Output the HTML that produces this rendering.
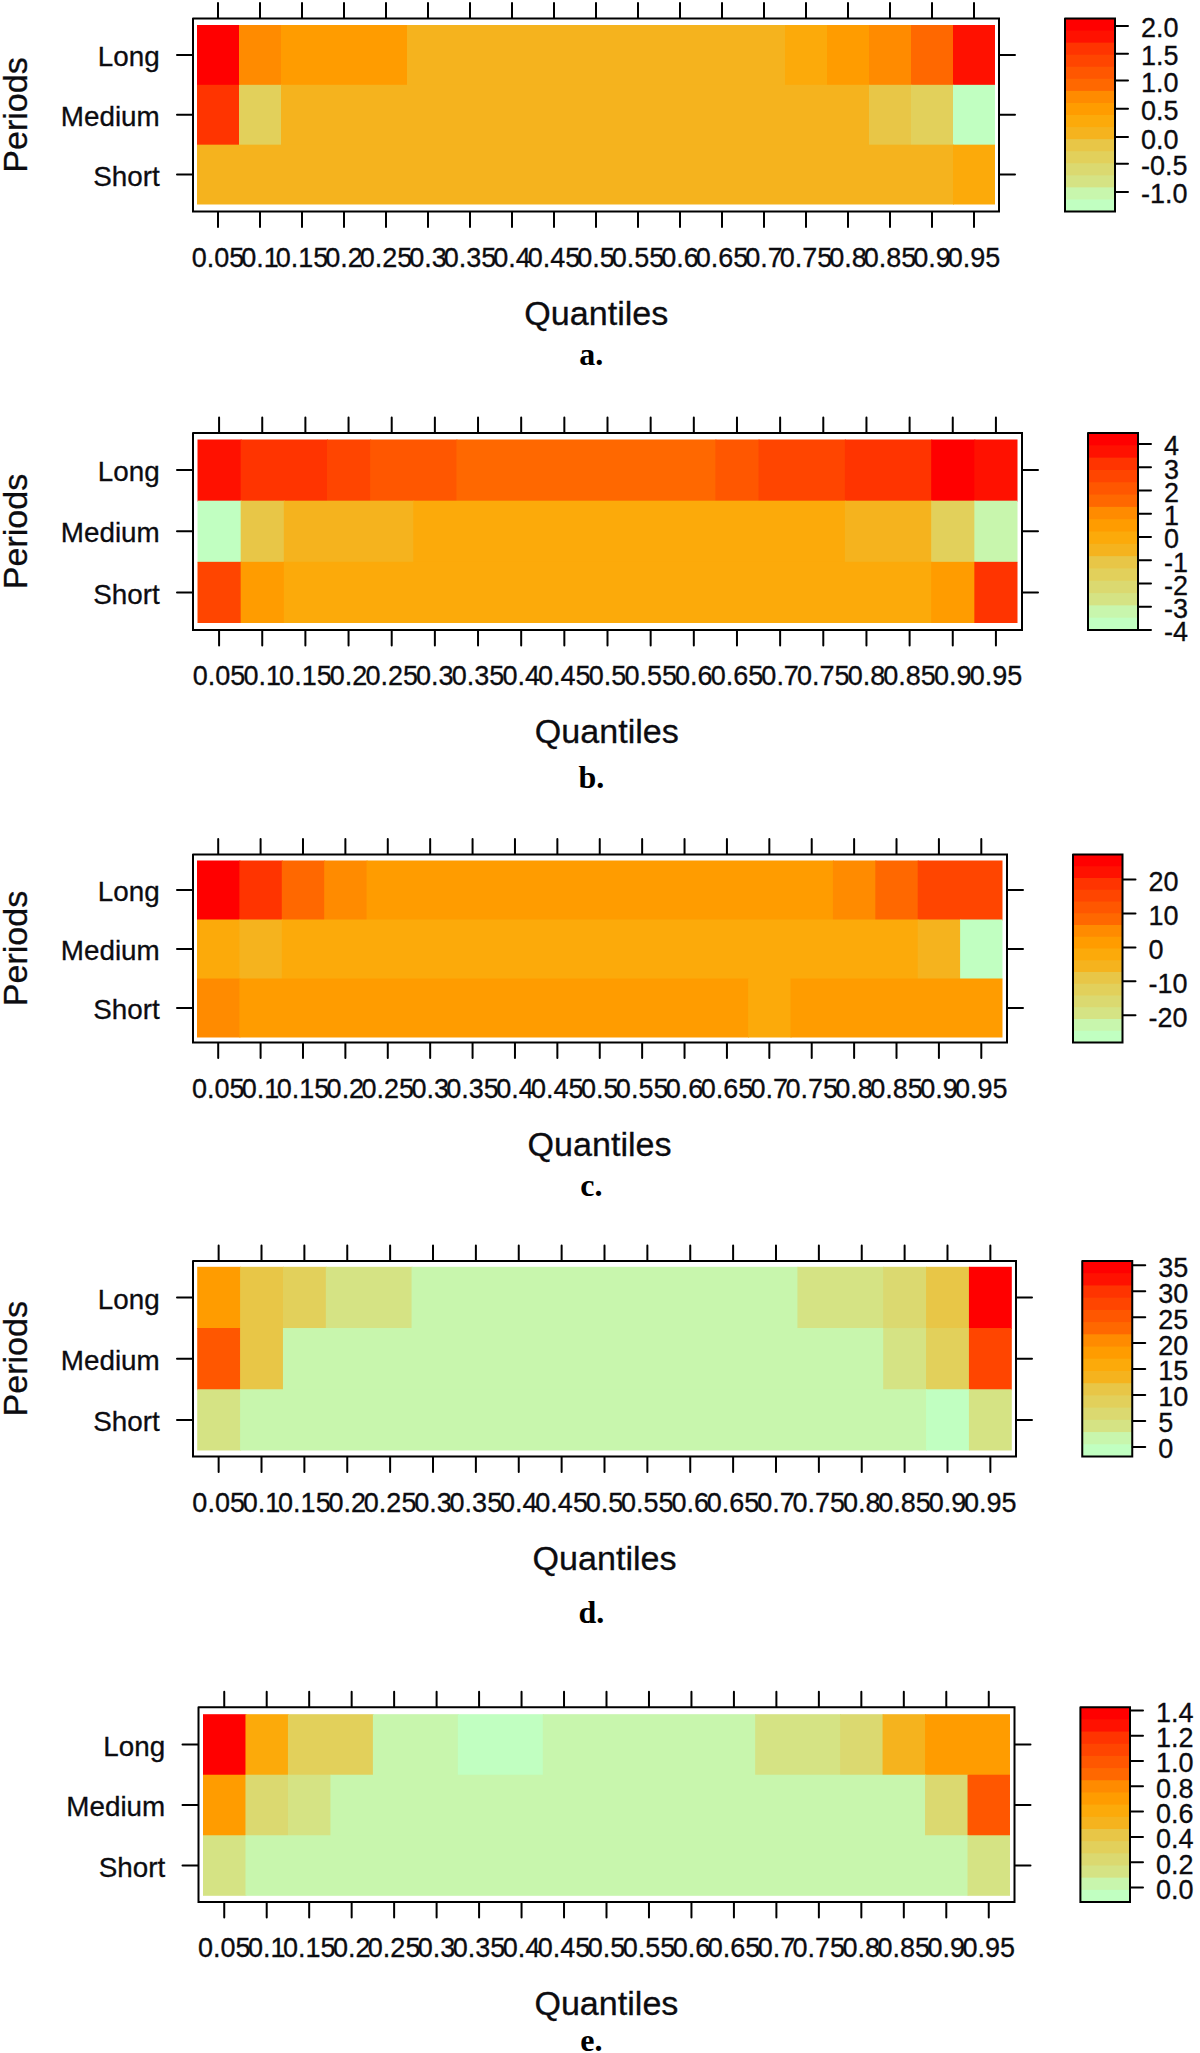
<!DOCTYPE html>
<html lang="en"><head><meta charset="utf-8"><title>Quantile heatmaps</title>
<style>
html,body{margin:0;padding:0;background:#fff;}
body{width:1200px;height:2053px;overflow:hidden;}
svg{display:block;}
svg text{font-family:"Liberation Sans",Arial,sans-serif;fill:#0c0c10;stroke:#0c0c10;stroke-width:0.3px;}
svg text.let{font-family:"Liberation Serif","Times New Roman",serif;font-weight:bold;fill:#000;stroke:none;}
</style></head><body>
<svg width="1200" height="2053" viewBox="0 0 1200 2053">
<rect width="1200" height="2053" fill="#fff"/>
<g id="panel-a">
<rect x="197" y="25" width="43" height="60.83" fill="#FF0000"/>
<rect x="239" y="25" width="43" height="60.83" fill="#FF8B00"/>
<rect x="281" y="25" width="127" height="60.83" fill="#FF9C00"/>
<rect x="407" y="25" width="379" height="60.83" fill="#F5B31E"/>
<rect x="785" y="25" width="43" height="60.83" fill="#FCAA0A"/>
<rect x="827" y="25" width="43" height="60.83" fill="#FF9C00"/>
<rect x="869" y="25" width="43" height="60.83" fill="#FF8B00"/>
<rect x="911" y="25" width="43" height="60.83" fill="#FF6800"/>
<rect x="953" y="25" width="42" height="60.83" fill="#FF1100"/>
<rect x="197" y="84.83" width="43" height="60.83" fill="#FF3400"/>
<rect x="239" y="84.83" width="43" height="60.83" fill="#E2D05B"/>
<rect x="281" y="84.83" width="589" height="60.83" fill="#F5B31E"/>
<rect x="869" y="84.83" width="43" height="60.83" fill="#E8C647"/>
<rect x="911" y="84.83" width="43" height="60.83" fill="#E2D05B"/>
<rect x="953" y="84.83" width="42" height="60.83" fill="#C1FFC1"/>
<rect x="197" y="144.67" width="757" height="59.83" fill="#F5B31E"/>
<rect x="953" y="144.67" width="42" height="59.83" fill="#FCAA0A"/>
<path d="M218 3V18M218 212V227M260 3V18M260 212V227M302 3V18M302 212V227M344 3V18M344 212V227M386 3V18M386 212V227M428 3V18M428 212V227M470 3V18M470 212V227M512 3V18M512 212V227M554 3V18M554 212V227M596 3V18M596 212V227M638 3V18M638 212V227M680 3V18M680 212V227M722 3V18M722 212V227M764 3V18M764 212V227M806 3V18M806 212V227M848 3V18M848 212V227M890 3V18M890 212V227M932 3V18M932 212V227M974 3V18M974 212V227M177 54.92H192.5M999.5 54.92H1015M177 114.75H192.5M999.5 114.75H1015M177 174.58H192.5M999.5 174.58H1015" stroke="#000" stroke-width="2" stroke-linecap="round" fill="none"/>
<path d="M193 18.5H999V211.5H193V18.5" fill="none" stroke="#000" stroke-width="2" stroke-linecap="round" stroke-linejoin="miter"/>
<text x="159.7" y="66.12" text-anchor="end" font-size="27.8">Long</text>
<text x="159.7" y="125.95" text-anchor="end" font-size="27.8">Medium</text>
<text x="159.7" y="185.78" text-anchor="end" font-size="27.8">Short</text>
<text transform="translate(27.3 115) rotate(-90)" text-anchor="middle" font-size="34.1">Periods</text>
<text transform="translate(218 266.5) scale(1 1.04)" text-anchor="middle" font-size="27">0.05</text>
<text transform="translate(260 266.5) scale(1 1.04)" text-anchor="middle" font-size="27">0.1</text>
<text transform="translate(302 266.5) scale(1 1.04)" text-anchor="middle" font-size="27">0.15</text>
<text transform="translate(344 266.5) scale(1 1.04)" text-anchor="middle" font-size="27">0.2</text>
<text transform="translate(386 266.5) scale(1 1.04)" text-anchor="middle" font-size="27">0.25</text>
<text transform="translate(428 266.5) scale(1 1.04)" text-anchor="middle" font-size="27">0.3</text>
<text transform="translate(470 266.5) scale(1 1.04)" text-anchor="middle" font-size="27">0.35</text>
<text transform="translate(512 266.5) scale(1 1.04)" text-anchor="middle" font-size="27">0.4</text>
<text transform="translate(554 266.5) scale(1 1.04)" text-anchor="middle" font-size="27">0.45</text>
<text transform="translate(596 266.5) scale(1 1.04)" text-anchor="middle" font-size="27">0.5</text>
<text transform="translate(638 266.5) scale(1 1.04)" text-anchor="middle" font-size="27">0.55</text>
<text transform="translate(680 266.5) scale(1 1.04)" text-anchor="middle" font-size="27">0.6</text>
<text transform="translate(722 266.5) scale(1 1.04)" text-anchor="middle" font-size="27">0.65</text>
<text transform="translate(764 266.5) scale(1 1.04)" text-anchor="middle" font-size="27">0.7</text>
<text transform="translate(806 266.5) scale(1 1.04)" text-anchor="middle" font-size="27">0.75</text>
<text transform="translate(848 266.5) scale(1 1.04)" text-anchor="middle" font-size="27">0.8</text>
<text transform="translate(890 266.5) scale(1 1.04)" text-anchor="middle" font-size="27">0.85</text>
<text transform="translate(932 266.5) scale(1 1.04)" text-anchor="middle" font-size="27">0.9</text>
<text transform="translate(974 266.5) scale(1 1.04)" text-anchor="middle" font-size="27">0.95</text>
<text x="596.3" y="324.8" text-anchor="middle" font-size="34.1">Quantiles</text>
<text x="591.3" y="364.5" text-anchor="middle" font-size="32" class="let">a.</text>
<rect x="1065" y="18.5" width="50" height="13.06" fill="#FF0000"/>
<rect x="1065" y="30.56" width="50" height="13.06" fill="#FF1100"/>
<rect x="1065" y="42.62" width="50" height="13.06" fill="#FF3400"/>
<rect x="1065" y="54.69" width="50" height="13.06" fill="#FF4500"/>
<rect x="1065" y="66.75" width="50" height="13.06" fill="#FF5700"/>
<rect x="1065" y="78.81" width="50" height="13.06" fill="#FF6800"/>
<rect x="1065" y="90.88" width="50" height="13.06" fill="#FF8B00"/>
<rect x="1065" y="102.94" width="50" height="13.06" fill="#FF9C00"/>
<rect x="1065" y="115" width="50" height="13.06" fill="#FCAA0A"/>
<rect x="1065" y="127.06" width="50" height="13.06" fill="#F5B31E"/>
<rect x="1065" y="139.12" width="50" height="13.06" fill="#E8C647"/>
<rect x="1065" y="151.19" width="50" height="13.06" fill="#E2D05B"/>
<rect x="1065" y="163.25" width="50" height="13.06" fill="#DBD970"/>
<rect x="1065" y="175.31" width="50" height="13.06" fill="#D5E384"/>
<rect x="1065" y="187.38" width="50" height="13.06" fill="#C8F6AD"/>
<rect x="1065" y="199.44" width="50" height="12.06" fill="#C1FFC1"/>
<path d="M1065 18.5H1115V211.5H1065V18.5" fill="none" stroke="#000" stroke-width="2" stroke-linecap="round" stroke-linejoin="miter"/>
<text transform="translate(1141 37.3) scale(1 1.04)" font-size="27">2.0</text>
<text transform="translate(1141 65.15) scale(1 1.04)" font-size="27">1.5</text>
<text transform="translate(1141 91.8) scale(1 1.04)" font-size="27">1.0</text>
<text transform="translate(1141 120.15) scale(1 1.04)" font-size="27">0.5</text>
<text transform="translate(1141 148.5) scale(1 1.04)" font-size="27">0.0</text>
<text transform="translate(1141 175.2) scale(1 1.04)" font-size="27">-0.5</text>
<text transform="translate(1141 203.3) scale(1 1.04)" font-size="27">-1.0</text>
<path d="M1115.5 25.9H1128M1115.5 53.75H1128M1115.5 80.4H1128M1115.5 108.75H1128M1115.5 137.1H1128M1115.5 163.8H1128M1115.5 191.9H1128" stroke="#000" stroke-width="2" stroke-linecap="round" fill="none"/>
</g>
<g id="panel-b">
<rect x="197.5" y="439.5" width="44.16" height="62.17" fill="#FF1100"/>
<rect x="240.66" y="439.5" width="87.32" height="62.17" fill="#FF3400"/>
<rect x="326.97" y="439.5" width="44.16" height="62.17" fill="#FF4500"/>
<rect x="370.13" y="439.5" width="87.32" height="62.17" fill="#FF5700"/>
<rect x="456.45" y="439.5" width="259.95" height="62.17" fill="#FF6800"/>
<rect x="715.39" y="439.5" width="44.16" height="62.17" fill="#FF5700"/>
<rect x="758.55" y="439.5" width="87.32" height="62.17" fill="#FF4500"/>
<rect x="844.87" y="439.5" width="87.32" height="62.17" fill="#FF3400"/>
<rect x="931.18" y="439.5" width="44.16" height="62.17" fill="#FF0000"/>
<rect x="974.34" y="439.5" width="43.16" height="62.17" fill="#FF1100"/>
<rect x="197.5" y="500.67" width="44.16" height="62.17" fill="#C1FFC1"/>
<rect x="240.66" y="500.67" width="44.16" height="62.17" fill="#E8C647"/>
<rect x="283.82" y="500.67" width="130.47" height="62.17" fill="#F5B31E"/>
<rect x="413.29" y="500.67" width="432.58" height="62.17" fill="#FCAA0A"/>
<rect x="844.87" y="500.67" width="87.32" height="62.17" fill="#F5B31E"/>
<rect x="931.18" y="500.67" width="44.16" height="62.17" fill="#E2D05B"/>
<rect x="974.34" y="500.67" width="43.16" height="62.17" fill="#C8F6AD"/>
<rect x="197.5" y="561.83" width="44.16" height="61.17" fill="#FF4500"/>
<rect x="240.66" y="561.83" width="44.16" height="61.17" fill="#FF9C00"/>
<rect x="283.82" y="561.83" width="648.37" height="61.17" fill="#FCAA0A"/>
<rect x="931.18" y="561.83" width="44.16" height="61.17" fill="#FF9C00"/>
<rect x="974.34" y="561.83" width="43.16" height="61.17" fill="#FF3400"/>
<path d="M219.08 417.5V432.5M219.08 630.5V645.5M262.24 417.5V432.5M262.24 630.5V645.5M305.39 417.5V432.5M305.39 630.5V645.5M348.55 417.5V432.5M348.55 630.5V645.5M391.71 417.5V432.5M391.71 630.5V645.5M434.87 417.5V432.5M434.87 630.5V645.5M478.03 417.5V432.5M478.03 630.5V645.5M521.18 417.5V432.5M521.18 630.5V645.5M564.34 417.5V432.5M564.34 630.5V645.5M607.5 417.5V432.5M607.5 630.5V645.5M650.66 417.5V432.5M650.66 630.5V645.5M693.82 417.5V432.5M693.82 630.5V645.5M736.97 417.5V432.5M736.97 630.5V645.5M780.13 417.5V432.5M780.13 630.5V645.5M823.29 417.5V432.5M823.29 630.5V645.5M866.45 417.5V432.5M866.45 630.5V645.5M909.61 417.5V432.5M909.61 630.5V645.5M952.76 417.5V432.5M952.76 630.5V645.5M995.92 417.5V432.5M995.92 630.5V645.5M177 470.08H192.5M1022.5 470.08H1038M177 531.25H192.5M1022.5 531.25H1038M177 592.42H192.5M1022.5 592.42H1038" stroke="#000" stroke-width="2" stroke-linecap="round" fill="none"/>
<path d="M193 433H1022V630H193V433" fill="none" stroke="#000" stroke-width="2" stroke-linecap="round" stroke-linejoin="miter"/>
<text x="159.7" y="481.28" text-anchor="end" font-size="27.8">Long</text>
<text x="159.7" y="542.45" text-anchor="end" font-size="27.8">Medium</text>
<text x="159.7" y="603.62" text-anchor="end" font-size="27.8">Short</text>
<text transform="translate(27.3 531.5) rotate(-90)" text-anchor="middle" font-size="34.1">Periods</text>
<text transform="translate(219.08 685) scale(1 1.04)" text-anchor="middle" font-size="27">0.05</text>
<text transform="translate(262.24 685) scale(1 1.04)" text-anchor="middle" font-size="27">0.1</text>
<text transform="translate(305.39 685) scale(1 1.04)" text-anchor="middle" font-size="27">0.15</text>
<text transform="translate(348.55 685) scale(1 1.04)" text-anchor="middle" font-size="27">0.2</text>
<text transform="translate(391.71 685) scale(1 1.04)" text-anchor="middle" font-size="27">0.25</text>
<text transform="translate(434.87 685) scale(1 1.04)" text-anchor="middle" font-size="27">0.3</text>
<text transform="translate(478.03 685) scale(1 1.04)" text-anchor="middle" font-size="27">0.35</text>
<text transform="translate(521.18 685) scale(1 1.04)" text-anchor="middle" font-size="27">0.4</text>
<text transform="translate(564.34 685) scale(1 1.04)" text-anchor="middle" font-size="27">0.45</text>
<text transform="translate(607.5 685) scale(1 1.04)" text-anchor="middle" font-size="27">0.5</text>
<text transform="translate(650.66 685) scale(1 1.04)" text-anchor="middle" font-size="27">0.55</text>
<text transform="translate(693.82 685) scale(1 1.04)" text-anchor="middle" font-size="27">0.6</text>
<text transform="translate(736.97 685) scale(1 1.04)" text-anchor="middle" font-size="27">0.65</text>
<text transform="translate(780.13 685) scale(1 1.04)" text-anchor="middle" font-size="27">0.7</text>
<text transform="translate(823.29 685) scale(1 1.04)" text-anchor="middle" font-size="27">0.75</text>
<text transform="translate(866.45 685) scale(1 1.04)" text-anchor="middle" font-size="27">0.8</text>
<text transform="translate(909.61 685) scale(1 1.04)" text-anchor="middle" font-size="27">0.85</text>
<text transform="translate(952.76 685) scale(1 1.04)" text-anchor="middle" font-size="27">0.9</text>
<text transform="translate(995.92 685) scale(1 1.04)" text-anchor="middle" font-size="27">0.95</text>
<text x="606.8" y="743.3" text-anchor="middle" font-size="34.1">Quantiles</text>
<text x="591.3" y="787.6" text-anchor="middle" font-size="32" class="let">b.</text>
<rect x="1088" y="433" width="50" height="13.31" fill="#FF0000"/>
<rect x="1088" y="445.31" width="50" height="13.31" fill="#FF1100"/>
<rect x="1088" y="457.62" width="50" height="13.31" fill="#FF3400"/>
<rect x="1088" y="469.94" width="50" height="13.31" fill="#FF4500"/>
<rect x="1088" y="482.25" width="50" height="13.31" fill="#FF5700"/>
<rect x="1088" y="494.56" width="50" height="13.31" fill="#FF6800"/>
<rect x="1088" y="506.88" width="50" height="13.31" fill="#FF8B00"/>
<rect x="1088" y="519.19" width="50" height="13.31" fill="#FF9C00"/>
<rect x="1088" y="531.5" width="50" height="13.31" fill="#FCAA0A"/>
<rect x="1088" y="543.81" width="50" height="13.31" fill="#F5B31E"/>
<rect x="1088" y="556.12" width="50" height="13.31" fill="#E8C647"/>
<rect x="1088" y="568.44" width="50" height="13.31" fill="#E2D05B"/>
<rect x="1088" y="580.75" width="50" height="13.31" fill="#DBD970"/>
<rect x="1088" y="593.06" width="50" height="13.31" fill="#D5E384"/>
<rect x="1088" y="605.38" width="50" height="13.31" fill="#C8F6AD"/>
<rect x="1088" y="617.69" width="50" height="12.31" fill="#C1FFC1"/>
<path d="M1088 433H1138V630H1088V433" fill="none" stroke="#000" stroke-width="2" stroke-linecap="round" stroke-linejoin="miter"/>
<text transform="translate(1164 455.44) scale(1 1.04)" font-size="27">4</text>
<text transform="translate(1164 478.68) scale(1 1.04)" font-size="27">3</text>
<text transform="translate(1164 501.92) scale(1 1.04)" font-size="27">2</text>
<text transform="translate(1164 525.16) scale(1 1.04)" font-size="27">1</text>
<text transform="translate(1164 548.4) scale(1 1.04)" font-size="27">0</text>
<text transform="translate(1164 571.64) scale(1 1.04)" font-size="27">-1</text>
<text transform="translate(1164 594.88) scale(1 1.04)" font-size="27">-2</text>
<text transform="translate(1164 618.12) scale(1 1.04)" font-size="27">-3</text>
<text transform="translate(1164 641.36) scale(1 1.04)" font-size="27">-4</text>
<path d="M1138.5 444.04H1151M1138.5 467.28H1151M1138.5 490.52H1151M1138.5 513.76H1151M1138.5 537H1151M1138.5 560.24H1151M1138.5 583.48H1151M1138.5 606.72H1151M1138.5 629.96H1151" stroke="#000" stroke-width="2" stroke-linecap="round" fill="none"/>
</g>
<g id="panel-c">
<rect x="197" y="860.5" width="43.39" height="60" fill="#FF0000"/>
<rect x="239.39" y="860.5" width="43.39" height="60" fill="#FF3400"/>
<rect x="281.79" y="860.5" width="43.39" height="60" fill="#FF6800"/>
<rect x="324.18" y="860.5" width="43.39" height="60" fill="#FF8B00"/>
<rect x="366.58" y="860.5" width="467.34" height="60" fill="#FF9C00"/>
<rect x="832.92" y="860.5" width="43.39" height="60" fill="#FF8B00"/>
<rect x="875.32" y="860.5" width="43.39" height="60" fill="#FF6800"/>
<rect x="917.71" y="860.5" width="84.79" height="60" fill="#FF4500"/>
<rect x="197" y="919.5" width="43.39" height="60" fill="#FCAA0A"/>
<rect x="239.39" y="919.5" width="43.39" height="60" fill="#F5B31E"/>
<rect x="281.79" y="919.5" width="636.92" height="60" fill="#FCAA0A"/>
<rect x="917.71" y="919.5" width="43.39" height="60" fill="#F5B31E"/>
<rect x="960.11" y="919.5" width="42.39" height="60" fill="#C1FFC1"/>
<rect x="197" y="978.5" width="43.39" height="59" fill="#FF8B00"/>
<rect x="239.39" y="978.5" width="509.74" height="59" fill="#FF9C00"/>
<rect x="748.13" y="978.5" width="43.39" height="59" fill="#FCAA0A"/>
<rect x="790.53" y="978.5" width="211.97" height="59" fill="#FF9C00"/>
<path d="M218.2 839V854M218.2 1043V1058M260.59 839V854M260.59 1043V1058M302.99 839V854M302.99 1043V1058M345.38 839V854M345.38 1043V1058M387.78 839V854M387.78 1043V1058M430.17 839V854M430.17 1043V1058M472.57 839V854M472.57 1043V1058M514.96 839V854M514.96 1043V1058M557.36 839V854M557.36 1043V1058M599.75 839V854M599.75 1043V1058M642.14 839V854M642.14 1043V1058M684.54 839V854M684.54 1043V1058M726.93 839V854M726.93 1043V1058M769.33 839V854M769.33 1043V1058M811.72 839V854M811.72 1043V1058M854.12 839V854M854.12 1043V1058M896.51 839V854M896.51 1043V1058M938.91 839V854M938.91 1043V1058M981.3 839V854M981.3 1043V1058M177 890H192.5M1007.5 890H1023M177 949H192.5M1007.5 949H1023M177 1008H192.5M1007.5 1008H1023" stroke="#000" stroke-width="2" stroke-linecap="round" fill="none"/>
<path d="M193 854.5H1007V1042.5H193V854.5" fill="none" stroke="#000" stroke-width="2" stroke-linecap="round" stroke-linejoin="miter"/>
<text x="159.7" y="901.2" text-anchor="end" font-size="27.8">Long</text>
<text x="159.7" y="960.2" text-anchor="end" font-size="27.8">Medium</text>
<text x="159.7" y="1019.2" text-anchor="end" font-size="27.8">Short</text>
<text transform="translate(27.3 948.5) rotate(-90)" text-anchor="middle" font-size="34.1">Periods</text>
<text transform="translate(218.2 1097.5) scale(1 1.04)" text-anchor="middle" font-size="27">0.05</text>
<text transform="translate(260.59 1097.5) scale(1 1.04)" text-anchor="middle" font-size="27">0.1</text>
<text transform="translate(302.99 1097.5) scale(1 1.04)" text-anchor="middle" font-size="27">0.15</text>
<text transform="translate(345.38 1097.5) scale(1 1.04)" text-anchor="middle" font-size="27">0.2</text>
<text transform="translate(387.78 1097.5) scale(1 1.04)" text-anchor="middle" font-size="27">0.25</text>
<text transform="translate(430.17 1097.5) scale(1 1.04)" text-anchor="middle" font-size="27">0.3</text>
<text transform="translate(472.57 1097.5) scale(1 1.04)" text-anchor="middle" font-size="27">0.35</text>
<text transform="translate(514.96 1097.5) scale(1 1.04)" text-anchor="middle" font-size="27">0.4</text>
<text transform="translate(557.36 1097.5) scale(1 1.04)" text-anchor="middle" font-size="27">0.45</text>
<text transform="translate(599.75 1097.5) scale(1 1.04)" text-anchor="middle" font-size="27">0.5</text>
<text transform="translate(642.14 1097.5) scale(1 1.04)" text-anchor="middle" font-size="27">0.55</text>
<text transform="translate(684.54 1097.5) scale(1 1.04)" text-anchor="middle" font-size="27">0.6</text>
<text transform="translate(726.93 1097.5) scale(1 1.04)" text-anchor="middle" font-size="27">0.65</text>
<text transform="translate(769.33 1097.5) scale(1 1.04)" text-anchor="middle" font-size="27">0.7</text>
<text transform="translate(811.72 1097.5) scale(1 1.04)" text-anchor="middle" font-size="27">0.75</text>
<text transform="translate(854.12 1097.5) scale(1 1.04)" text-anchor="middle" font-size="27">0.8</text>
<text transform="translate(896.51 1097.5) scale(1 1.04)" text-anchor="middle" font-size="27">0.85</text>
<text transform="translate(938.91 1097.5) scale(1 1.04)" text-anchor="middle" font-size="27">0.9</text>
<text transform="translate(981.3 1097.5) scale(1 1.04)" text-anchor="middle" font-size="27">0.95</text>
<text x="599.6" y="1155.8" text-anchor="middle" font-size="34.1">Quantiles</text>
<text x="591.3" y="1196.2" text-anchor="middle" font-size="32" class="let">c.</text>
<rect x="1073" y="854.5" width="49.5" height="12.75" fill="#FF0000"/>
<rect x="1073" y="866.25" width="49.5" height="12.75" fill="#FF1100"/>
<rect x="1073" y="878" width="49.5" height="12.75" fill="#FF3400"/>
<rect x="1073" y="889.75" width="49.5" height="12.75" fill="#FF4500"/>
<rect x="1073" y="901.5" width="49.5" height="12.75" fill="#FF5700"/>
<rect x="1073" y="913.25" width="49.5" height="12.75" fill="#FF6800"/>
<rect x="1073" y="925" width="49.5" height="12.75" fill="#FF8B00"/>
<rect x="1073" y="936.75" width="49.5" height="12.75" fill="#FF9C00"/>
<rect x="1073" y="948.5" width="49.5" height="12.75" fill="#FCAA0A"/>
<rect x="1073" y="960.25" width="49.5" height="12.75" fill="#F5B31E"/>
<rect x="1073" y="972" width="49.5" height="12.75" fill="#E8C647"/>
<rect x="1073" y="983.75" width="49.5" height="12.75" fill="#E2D05B"/>
<rect x="1073" y="995.5" width="49.5" height="12.75" fill="#DBD970"/>
<rect x="1073" y="1007.25" width="49.5" height="12.75" fill="#D5E384"/>
<rect x="1073" y="1019" width="49.5" height="12.75" fill="#C8F6AD"/>
<rect x="1073" y="1030.75" width="49.5" height="11.75" fill="#C1FFC1"/>
<path d="M1073 854.5H1122.5V1042.5H1073V854.5" fill="none" stroke="#000" stroke-width="2" stroke-linecap="round" stroke-linejoin="miter"/>
<text transform="translate(1148.5 891) scale(1 1.04)" font-size="27">20</text>
<text transform="translate(1148.5 924.9) scale(1 1.04)" font-size="27">10</text>
<text transform="translate(1148.5 958.8) scale(1 1.04)" font-size="27">0</text>
<text transform="translate(1148.5 992.7) scale(1 1.04)" font-size="27">-10</text>
<text transform="translate(1148.5 1026.6) scale(1 1.04)" font-size="27">-20</text>
<path d="M1123 879.6H1135.5M1123 913.5H1135.5M1123 947.4H1135.5M1123 981.3H1135.5M1123 1015.2H1135.5" stroke="#000" stroke-width="2" stroke-linecap="round" fill="none"/>
</g>
<g id="panel-d">
<rect x="197.2" y="1266.8" width="43.87" height="62.23" fill="#FF9C00"/>
<rect x="240.07" y="1266.8" width="43.87" height="62.23" fill="#E8C647"/>
<rect x="282.95" y="1266.8" width="43.87" height="62.23" fill="#E2D05B"/>
<rect x="325.82" y="1266.8" width="86.75" height="62.23" fill="#D5E384"/>
<rect x="411.57" y="1266.8" width="386.86" height="62.23" fill="#C8F6AD"/>
<rect x="797.43" y="1266.8" width="86.75" height="62.23" fill="#D5E384"/>
<rect x="883.18" y="1266.8" width="43.87" height="62.23" fill="#DBD970"/>
<rect x="926.05" y="1266.8" width="43.87" height="62.23" fill="#E8C647"/>
<rect x="968.93" y="1266.8" width="42.87" height="62.23" fill="#FF0000"/>
<rect x="197.2" y="1328.03" width="43.87" height="62.23" fill="#FF5700"/>
<rect x="240.07" y="1328.03" width="43.87" height="62.23" fill="#E8C647"/>
<rect x="282.95" y="1328.03" width="601.23" height="62.23" fill="#C8F6AD"/>
<rect x="883.18" y="1328.03" width="43.87" height="62.23" fill="#D5E384"/>
<rect x="926.05" y="1328.03" width="43.87" height="62.23" fill="#E2D05B"/>
<rect x="968.93" y="1328.03" width="42.87" height="62.23" fill="#FF4500"/>
<rect x="197.2" y="1389.27" width="43.87" height="61.23" fill="#D5E384"/>
<rect x="240.07" y="1389.27" width="686.98" height="61.23" fill="#C8F6AD"/>
<rect x="926.05" y="1389.27" width="43.87" height="61.23" fill="#C1FFC1"/>
<rect x="968.93" y="1389.27" width="42.87" height="61.23" fill="#D5E384"/>
<path d="M218.64 1245.5V1260.5M218.64 1457V1472M261.51 1245.5V1260.5M261.51 1457V1472M304.38 1245.5V1260.5M304.38 1457V1472M347.26 1245.5V1260.5M347.26 1457V1472M390.13 1245.5V1260.5M390.13 1457V1472M433.01 1245.5V1260.5M433.01 1457V1472M475.88 1245.5V1260.5M475.88 1457V1472M518.75 1245.5V1260.5M518.75 1457V1472M561.63 1245.5V1260.5M561.63 1457V1472M604.5 1245.5V1260.5M604.5 1457V1472M647.37 1245.5V1260.5M647.37 1457V1472M690.25 1245.5V1260.5M690.25 1457V1472M733.12 1245.5V1260.5M733.12 1457V1472M775.99 1245.5V1260.5M775.99 1457V1472M818.87 1245.5V1260.5M818.87 1457V1472M861.74 1245.5V1260.5M861.74 1457V1472M904.62 1245.5V1260.5M904.62 1457V1472M947.49 1245.5V1260.5M947.49 1457V1472M990.36 1245.5V1260.5M990.36 1457V1472M177 1297.42H192.5M1016.5 1297.42H1032M177 1358.65H192.5M1016.5 1358.65H1032M177 1419.88H192.5M1016.5 1419.88H1032" stroke="#000" stroke-width="2" stroke-linecap="round" fill="none"/>
<path d="M193 1261H1016V1456.5H193V1261" fill="none" stroke="#000" stroke-width="2" stroke-linecap="round" stroke-linejoin="miter"/>
<text x="159.7" y="1308.62" text-anchor="end" font-size="27.8">Long</text>
<text x="159.7" y="1369.85" text-anchor="end" font-size="27.8">Medium</text>
<text x="159.7" y="1431.08" text-anchor="end" font-size="27.8">Short</text>
<text transform="translate(27.3 1358.75) rotate(-90)" text-anchor="middle" font-size="34.1">Periods</text>
<text transform="translate(218.64 1511.5) scale(1 1.04)" text-anchor="middle" font-size="27">0.05</text>
<text transform="translate(261.51 1511.5) scale(1 1.04)" text-anchor="middle" font-size="27">0.1</text>
<text transform="translate(304.38 1511.5) scale(1 1.04)" text-anchor="middle" font-size="27">0.15</text>
<text transform="translate(347.26 1511.5) scale(1 1.04)" text-anchor="middle" font-size="27">0.2</text>
<text transform="translate(390.13 1511.5) scale(1 1.04)" text-anchor="middle" font-size="27">0.25</text>
<text transform="translate(433.01 1511.5) scale(1 1.04)" text-anchor="middle" font-size="27">0.3</text>
<text transform="translate(475.88 1511.5) scale(1 1.04)" text-anchor="middle" font-size="27">0.35</text>
<text transform="translate(518.75 1511.5) scale(1 1.04)" text-anchor="middle" font-size="27">0.4</text>
<text transform="translate(561.63 1511.5) scale(1 1.04)" text-anchor="middle" font-size="27">0.45</text>
<text transform="translate(604.5 1511.5) scale(1 1.04)" text-anchor="middle" font-size="27">0.5</text>
<text transform="translate(647.37 1511.5) scale(1 1.04)" text-anchor="middle" font-size="27">0.55</text>
<text transform="translate(690.25 1511.5) scale(1 1.04)" text-anchor="middle" font-size="27">0.6</text>
<text transform="translate(733.12 1511.5) scale(1 1.04)" text-anchor="middle" font-size="27">0.65</text>
<text transform="translate(775.99 1511.5) scale(1 1.04)" text-anchor="middle" font-size="27">0.7</text>
<text transform="translate(818.87 1511.5) scale(1 1.04)" text-anchor="middle" font-size="27">0.75</text>
<text transform="translate(861.74 1511.5) scale(1 1.04)" text-anchor="middle" font-size="27">0.8</text>
<text transform="translate(904.62 1511.5) scale(1 1.04)" text-anchor="middle" font-size="27">0.85</text>
<text transform="translate(947.49 1511.5) scale(1 1.04)" text-anchor="middle" font-size="27">0.9</text>
<text transform="translate(990.36 1511.5) scale(1 1.04)" text-anchor="middle" font-size="27">0.95</text>
<text x="604.6" y="1569.8" text-anchor="middle" font-size="34.1">Quantiles</text>
<text x="591.3" y="1623" text-anchor="middle" font-size="32" class="let">d.</text>
<rect x="1082.25" y="1261" width="50" height="13.22" fill="#FF0000"/>
<rect x="1082.25" y="1273.22" width="50" height="13.22" fill="#FF1100"/>
<rect x="1082.25" y="1285.44" width="50" height="13.22" fill="#FF3400"/>
<rect x="1082.25" y="1297.66" width="50" height="13.22" fill="#FF4500"/>
<rect x="1082.25" y="1309.88" width="50" height="13.22" fill="#FF5700"/>
<rect x="1082.25" y="1322.09" width="50" height="13.22" fill="#FF6800"/>
<rect x="1082.25" y="1334.31" width="50" height="13.22" fill="#FF8B00"/>
<rect x="1082.25" y="1346.53" width="50" height="13.22" fill="#FF9C00"/>
<rect x="1082.25" y="1358.75" width="50" height="13.22" fill="#FCAA0A"/>
<rect x="1082.25" y="1370.97" width="50" height="13.22" fill="#F5B31E"/>
<rect x="1082.25" y="1383.19" width="50" height="13.22" fill="#E8C647"/>
<rect x="1082.25" y="1395.41" width="50" height="13.22" fill="#E2D05B"/>
<rect x="1082.25" y="1407.62" width="50" height="13.22" fill="#DBD970"/>
<rect x="1082.25" y="1419.84" width="50" height="13.22" fill="#D5E384"/>
<rect x="1082.25" y="1432.06" width="50" height="13.22" fill="#C8F6AD"/>
<rect x="1082.25" y="1444.28" width="50" height="12.22" fill="#C1FFC1"/>
<path d="M1082.25 1261H1132.25V1456.5H1082.25V1261" fill="none" stroke="#000" stroke-width="2" stroke-linecap="round" stroke-linejoin="miter"/>
<text transform="translate(1158.25 1276.65) scale(1 1.04)" font-size="27">35</text>
<text transform="translate(1158.25 1302.6) scale(1 1.04)" font-size="27">30</text>
<text transform="translate(1158.25 1328.55) scale(1 1.04)" font-size="27">25</text>
<text transform="translate(1158.25 1354.5) scale(1 1.04)" font-size="27">20</text>
<text transform="translate(1158.25 1380.45) scale(1 1.04)" font-size="27">15</text>
<text transform="translate(1158.25 1406.4) scale(1 1.04)" font-size="27">10</text>
<text transform="translate(1158.25 1432.35) scale(1 1.04)" font-size="27">5</text>
<text transform="translate(1158.25 1458.3) scale(1 1.04)" font-size="27">0</text>
<path d="M1132.75 1265.25H1145.25M1132.75 1291.2H1145.25M1132.75 1317.15H1145.25M1132.75 1343.1H1145.25M1132.75 1369.05H1145.25M1132.75 1395H1145.25M1132.75 1420.95H1145.25M1132.75 1446.9H1145.25" stroke="#000" stroke-width="2" stroke-linecap="round" fill="none"/>
</g>
<g id="panel-e">
<rect x="203" y="1714.2" width="43.47" height="61.53" fill="#FF0000"/>
<rect x="245.47" y="1714.2" width="43.47" height="61.53" fill="#FCAA0A"/>
<rect x="287.95" y="1714.2" width="85.95" height="61.53" fill="#E2D05B"/>
<rect x="372.89" y="1714.2" width="85.95" height="61.53" fill="#C8F6AD"/>
<rect x="457.84" y="1714.2" width="85.95" height="61.53" fill="#C1FFC1"/>
<rect x="542.79" y="1714.2" width="213.37" height="61.53" fill="#C8F6AD"/>
<rect x="755.16" y="1714.2" width="85.95" height="61.53" fill="#D5E384"/>
<rect x="840.11" y="1714.2" width="43.47" height="61.53" fill="#DBD970"/>
<rect x="882.58" y="1714.2" width="43.47" height="61.53" fill="#F5B31E"/>
<rect x="925.05" y="1714.2" width="84.95" height="61.53" fill="#FF9C00"/>
<rect x="203" y="1774.73" width="43.47" height="61.53" fill="#FF9C00"/>
<rect x="245.47" y="1774.73" width="43.47" height="61.53" fill="#DBD970"/>
<rect x="287.95" y="1774.73" width="43.47" height="61.53" fill="#D5E384"/>
<rect x="330.42" y="1774.73" width="595.63" height="61.53" fill="#C8F6AD"/>
<rect x="925.05" y="1774.73" width="43.47" height="61.53" fill="#DBD970"/>
<rect x="967.53" y="1774.73" width="42.47" height="61.53" fill="#FF5700"/>
<rect x="203" y="1835.27" width="43.47" height="60.53" fill="#D5E384"/>
<rect x="245.47" y="1835.27" width="723.05" height="60.53" fill="#C8F6AD"/>
<rect x="967.53" y="1835.27" width="42.47" height="60.53" fill="#D5E384"/>
<path d="M224.24 1691.7V1706.7M224.24 1902.5V1917.5M266.71 1691.7V1706.7M266.71 1902.5V1917.5M309.18 1691.7V1706.7M309.18 1902.5V1917.5M351.66 1691.7V1706.7M351.66 1902.5V1917.5M394.13 1691.7V1706.7M394.13 1902.5V1917.5M436.61 1691.7V1706.7M436.61 1902.5V1917.5M479.08 1691.7V1706.7M479.08 1902.5V1917.5M521.55 1691.7V1706.7M521.55 1902.5V1917.5M564.03 1691.7V1706.7M564.03 1902.5V1917.5M606.5 1691.7V1706.7M606.5 1902.5V1917.5M648.97 1691.7V1706.7M648.97 1902.5V1917.5M691.45 1691.7V1706.7M691.45 1902.5V1917.5M733.92 1691.7V1706.7M733.92 1902.5V1917.5M776.39 1691.7V1706.7M776.39 1902.5V1917.5M818.87 1691.7V1706.7M818.87 1902.5V1917.5M861.34 1691.7V1706.7M861.34 1902.5V1917.5M903.82 1691.7V1706.7M903.82 1902.5V1917.5M946.29 1691.7V1706.7M946.29 1902.5V1917.5M988.76 1691.7V1706.7M988.76 1902.5V1917.5M182.5 1744.47H198M1015 1744.47H1030.5M182.5 1805H198M1015 1805H1030.5M182.5 1865.53H198M1015 1865.53H1030.5" stroke="#000" stroke-width="2" stroke-linecap="round" fill="none"/>
<path d="M198.5 1707.2H1014.5V1902H198.5V1707.2" fill="none" stroke="#000" stroke-width="2" stroke-linecap="round" stroke-linejoin="miter"/>
<text x="165.2" y="1755.67" text-anchor="end" font-size="27.8">Long</text>
<text x="165.2" y="1816.2" text-anchor="end" font-size="27.8">Medium</text>
<text x="165.2" y="1876.73" text-anchor="end" font-size="27.8">Short</text>
<text transform="translate(224.24 1957) scale(1 1.04)" text-anchor="middle" font-size="27">0.05</text>
<text transform="translate(266.71 1957) scale(1 1.04)" text-anchor="middle" font-size="27">0.1</text>
<text transform="translate(309.18 1957) scale(1 1.04)" text-anchor="middle" font-size="27">0.15</text>
<text transform="translate(351.66 1957) scale(1 1.04)" text-anchor="middle" font-size="27">0.2</text>
<text transform="translate(394.13 1957) scale(1 1.04)" text-anchor="middle" font-size="27">0.25</text>
<text transform="translate(436.61 1957) scale(1 1.04)" text-anchor="middle" font-size="27">0.3</text>
<text transform="translate(479.08 1957) scale(1 1.04)" text-anchor="middle" font-size="27">0.35</text>
<text transform="translate(521.55 1957) scale(1 1.04)" text-anchor="middle" font-size="27">0.4</text>
<text transform="translate(564.03 1957) scale(1 1.04)" text-anchor="middle" font-size="27">0.45</text>
<text transform="translate(606.5 1957) scale(1 1.04)" text-anchor="middle" font-size="27">0.5</text>
<text transform="translate(648.97 1957) scale(1 1.04)" text-anchor="middle" font-size="27">0.55</text>
<text transform="translate(691.45 1957) scale(1 1.04)" text-anchor="middle" font-size="27">0.6</text>
<text transform="translate(733.92 1957) scale(1 1.04)" text-anchor="middle" font-size="27">0.65</text>
<text transform="translate(776.39 1957) scale(1 1.04)" text-anchor="middle" font-size="27">0.7</text>
<text transform="translate(818.87 1957) scale(1 1.04)" text-anchor="middle" font-size="27">0.75</text>
<text transform="translate(861.34 1957) scale(1 1.04)" text-anchor="middle" font-size="27">0.8</text>
<text transform="translate(903.82 1957) scale(1 1.04)" text-anchor="middle" font-size="27">0.85</text>
<text transform="translate(946.29 1957) scale(1 1.04)" text-anchor="middle" font-size="27">0.9</text>
<text transform="translate(988.76 1957) scale(1 1.04)" text-anchor="middle" font-size="27">0.95</text>
<text x="606.4" y="2015.3" text-anchor="middle" font-size="34.1">Quantiles</text>
<text x="591.3" y="2051.2" text-anchor="middle" font-size="32" class="let">e.</text>
<rect x="1080.4" y="1707.2" width="49.6" height="13.17" fill="#FF0000"/>
<rect x="1080.4" y="1719.38" width="49.6" height="13.17" fill="#FF1100"/>
<rect x="1080.4" y="1731.55" width="49.6" height="13.17" fill="#FF3400"/>
<rect x="1080.4" y="1743.73" width="49.6" height="13.17" fill="#FF4500"/>
<rect x="1080.4" y="1755.9" width="49.6" height="13.17" fill="#FF5700"/>
<rect x="1080.4" y="1768.08" width="49.6" height="13.17" fill="#FF6800"/>
<rect x="1080.4" y="1780.25" width="49.6" height="13.17" fill="#FF8B00"/>
<rect x="1080.4" y="1792.42" width="49.6" height="13.17" fill="#FF9C00"/>
<rect x="1080.4" y="1804.6" width="49.6" height="13.17" fill="#FCAA0A"/>
<rect x="1080.4" y="1816.78" width="49.6" height="13.17" fill="#F5B31E"/>
<rect x="1080.4" y="1828.95" width="49.6" height="13.17" fill="#E8C647"/>
<rect x="1080.4" y="1841.12" width="49.6" height="13.17" fill="#E2D05B"/>
<rect x="1080.4" y="1853.3" width="49.6" height="13.17" fill="#DBD970"/>
<rect x="1080.4" y="1865.47" width="49.6" height="13.17" fill="#D5E384"/>
<rect x="1080.4" y="1877.65" width="49.6" height="13.17" fill="#C8F6AD"/>
<rect x="1080.4" y="1889.83" width="49.6" height="12.17" fill="#C1FFC1"/>
<path d="M1080.4 1707.2H1130V1902H1080.4V1707.2" fill="none" stroke="#000" stroke-width="2" stroke-linecap="round" stroke-linejoin="miter"/>
<text transform="translate(1156 1721.8) scale(1 1.04)" font-size="27">1.4</text>
<text transform="translate(1156 1747.1) scale(1 1.04)" font-size="27">1.2</text>
<text transform="translate(1156 1772.4) scale(1 1.04)" font-size="27">1.0</text>
<text transform="translate(1156 1797.7) scale(1 1.04)" font-size="27">0.8</text>
<text transform="translate(1156 1823) scale(1 1.04)" font-size="27">0.6</text>
<text transform="translate(1156 1848.3) scale(1 1.04)" font-size="27">0.4</text>
<text transform="translate(1156 1873.6) scale(1 1.04)" font-size="27">0.2</text>
<text transform="translate(1156 1898.9) scale(1 1.04)" font-size="27">0.0</text>
<path d="M1130.5 1710.4H1143M1130.5 1735.7H1143M1130.5 1761H1143M1130.5 1786.3H1143M1130.5 1811.6H1143M1130.5 1836.9H1143M1130.5 1862.2H1143M1130.5 1887.5H1143" stroke="#000" stroke-width="2" stroke-linecap="round" fill="none"/>
</g>
</svg>
</body></html>
